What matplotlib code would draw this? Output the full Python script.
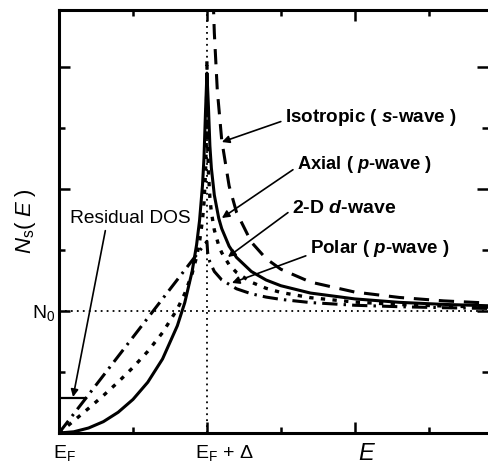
import matplotlib
matplotlib.use('Agg')
import matplotlib.pyplot as plt
from matplotlib.ticker import MultipleLocator

plt.rcParams['font.family'] = 'Liberation Sans'
plt.rcParams['mathtext.fontset'] = 'custom'
plt.rcParams['mathtext.rm'] = 'Liberation Sans'
plt.rcParams['mathtext.it'] = 'Liberation Sans:italic'
plt.rcParams['mathtext.bf'] = 'Liberation Sans:bold'
plt.rcParams['mathtext.bfit'] = 'Liberation Sans:bold:italic'

# energy in units of the gap (E_F = 0), DOS in units of N0
gap = 1.0
N0 = 1.0

# Axial (p-wave) - solid
axial_x = [0, 0.1, 0.2, 0.3, 0.4, 0.5, 0.6, 0.7, 0.8, 0.85, 0.9, 0.93, 0.95, 0.97, 0.98, 0.99,
           1.0, 1.01, 1.02, 1.03, 1.05, 1.08, 1.1, 1.15, 1.2, 1.3, 1.4, 1.5, 1.7, 2.0, 2.3, 2.6, 2.9, 3.0]
axial_y = [0, 0.010, 0.041, 0.093, 0.170, 0.275, 0.416, 0.607, 0.879, 1.068, 1.325, 1.542, 1.740, 2.030, 2.252, 2.620,
           2.95, 2.678, 2.354, 2.171, 1.950, 1.759, 1.675, 1.531, 1.439, 1.324, 1.254, 1.207, 1.147, 1.099, 1.071, 1.054, 1.043, 1.040]

# 2-D d-wave - short dashes
dwave_x = [0, 0.1, 0.2, 0.3, 0.4, 0.5, 0.6, 0.7, 0.8, 0.85, 0.9, 0.93, 0.95, 0.97, 0.98, 0.99, 0.995,
           1.0, 1.005, 1.01, 1.02, 1.03, 1.05, 1.08, 1.1, 1.15, 1.2, 1.3, 1.4, 1.5, 1.7, 2.0, 2.3, 2.6, 2.9, 3.0]
dwave_y = [0, 0.100, 0.202, 0.307, 0.418, 0.537, 0.669, 0.823, 1.016, 1.143, 1.307, 1.443, 1.566, 1.746, 1.885, 2.116, 2.342,
           3.06, 2.354, 2.140, 1.929, 1.809, 1.664, 1.535, 1.478, 1.379, 1.316, 1.236, 1.186, 1.152, 1.109, 1.073, 1.053, 1.041, 1.032, 1.030]

# Polar (p-wave) - dash-dot
polar_x = [0, 1.0, 1.005, 1.02, 1.05, 1.1, 1.2, 1.3, 1.4, 1.5, 1.7, 2.0, 2.3, 2.6, 2.9, 3.0]
polar_y = [0, 1.571, 1.478, 1.400, 1.324, 1.255, 1.182, 1.141, 1.114, 1.095, 1.069, 1.047, 1.035, 1.027, 1.021, 1.019]

# Isotropic (s-wave) - long dashes
bcs_x = [1.03, 1.04, 1.05, 1.07, 1.1, 1.15, 1.2, 1.3, 1.4, 1.5, 1.7, 2.0, 2.3, 2.6, 2.9, 3.0]
bcs_y = [4.17, 3.640, 3.280, 2.811, 2.400, 2.025, 1.809, 1.565, 1.429, 1.342, 1.237, 1.155, 1.111, 1.083, 1.065, 1.061]

# residual DOS plateau
residual_x = [0, 0.18]
residual_y = [0.29, 0.29]

fig = plt.figure(figsize=(4.88, 4.72), dpi=100)
ax = fig.add_axes([59/488, 39/472, 429/488, 423/472])

ax.axhline(N0, color='k', lw=1.3, ls=(0, (1, 2.3)))
ax.axvline(gap, color='k', lw=1.3, ls=(0, (1, 2.3)))

ax.plot(axial_x, axial_y, color='k', lw=2.2)
ax.plot(bcs_x, bcs_y, color='k', lw=2.2, dashes=(5, 3.2))
ax.plot(dwave_x, dwave_y, color='k', lw=2.4, dashes=(1.3, 2.2))
ax.plot(polar_x, polar_y, color='k', lw=2.2, dashes=(5, 2, 0.8, 2))
ax.plot(residual_x, residual_y, color='k', lw=1.6)

ax.set_xlim(0, 2.9)
ax.set_ylim(0, 3.467)

ax.set_xticks([0, 1, 2])
ax.set_xticklabels(['', '', ''])
ax.xaxis.set_minor_locator(MultipleLocator(0.5))
ax.set_yticks([0, 1, 2, 3])
ax.set_yticklabels(['', r'N$_0$', '', ''], fontsize=14)
ax.yaxis.set_minor_locator(MultipleLocator(0.5))
ax.tick_params(which='both', direction='in', top=True, right=True, width=1.8)
ax.tick_params(which='major', length=8, pad=3)
ax.tick_params(which='minor', length=4.5)
for side in ['left', 'bottom', 'top']:
    ax.spines[side].set_linewidth(2.2)
ax.spines['right'].set_visible(False)

xt = ax.get_xaxis_transform()
ax.text(0.04, -0.024, r'E$_\mathregular{F}$', transform=xt, ha='center', va='top', fontsize=14)
ax.text(1.12, -0.024, r'E$_\mathregular{F}$ + Δ', transform=xt, ha='center', va='top', fontsize=14)

ax.set_xlabel('$E$', fontsize=17)
ax.xaxis.set_label_coords(0.718, -0.024)
ax.set_ylabel(r'$N_{\mathregular{s}}(\;E\;)$', fontsize=16)
ax.yaxis.set_label_coords(-0.05, 0.5)

arrow = dict(arrowstyle='-|>', color='k', lw=1.2, mutation_scale=11, shrinkA=1, shrinkB=0)
ax.annotate('Isotropic ( $\\mathbfit{s}$-wave )', xy=(1.101, 2.385), xytext=(1.527, 2.59),
            fontsize=13.6, fontweight='bold', ha='left', va='center',
            arrowprops=dict(arrow, relpos=(0, 0.35)))
ax.annotate('Axial ( $\\mathbfit{p}$-wave )', xy=(1.101, 1.762), xytext=(1.608, 2.197),
            fontsize=13.2, fontweight='bold', ha='left', va='center',
            arrowprops=dict(arrow, relpos=(0, 0.4)))
ax.annotate('2-D $\\mathbfit{d}$-wave', xy=(1.142, 1.443), xytext=(1.574, 1.844),
            fontsize=14, fontweight='bold', ha='left', va='center',
            arrowprops=dict(arrow, relpos=(0, 0.4)))
ax.annotate('Polar ( $\\mathbfit{p}$-wave )', xy=(1.169, 1.230), xytext=(1.696, 1.516),
            fontsize=13.5, fontweight='bold', ha='left', va='center',
            arrowprops=dict(arrow, relpos=(0, 0.2)))
ax.annotate('Residual DOS', xy=(0.095, 0.295), xytext=(0.074, 1.762),
            fontsize=13.8, ha='left', va='center',
            arrowprops=dict(arrow, relpos=(0.3, 0)))

fig.savefig('out.png', dpi=100)
